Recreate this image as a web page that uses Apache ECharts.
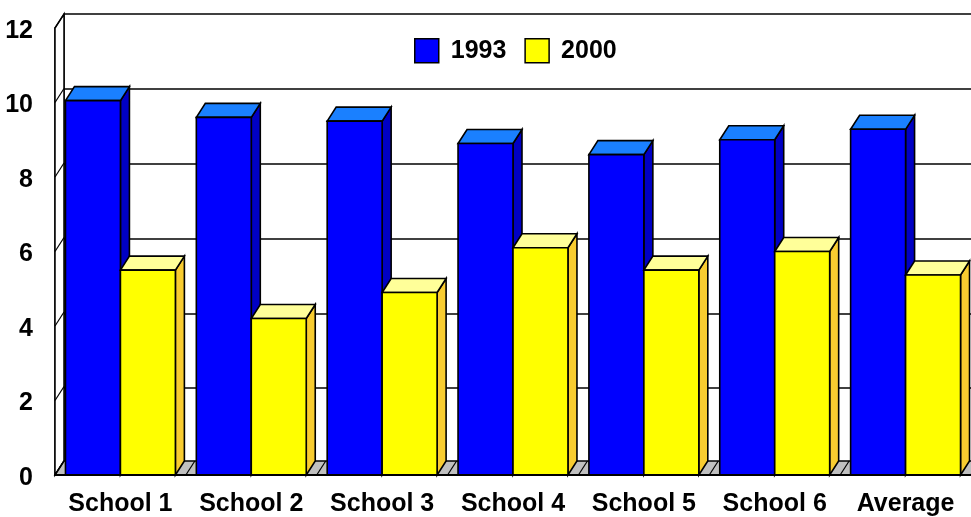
<!DOCTYPE html>
<html>
<head>
<meta charset="utf-8">
<script src="https://cdn.jsdelivr.net/npm/echarts@6/dist/echarts.min.js"></script>
<style>
  html, body { margin: 0; padding: 0; background: #fff; }
  #chart { width: 971px; height: 517px; }
</style>
</head>
<body>
<div id="chart"></div>
<script>
// Scores per school, 1993 vs 2000
const categories = ['School 1', 'School 2', 'School 3', 'School 4', 'School 5', 'School 6', 'Average'];
const scores1993 = [10.05, 9.6, 9.5, 8.9, 8.6, 9.0, 9.28];
const scores2000 = [5.5, 4.2, 4.9, 6.1, 5.5, 6.0, 5.37];
const yTicks = [0, 2, 4, 6, 8, 10, 12];

// Oblique depth of the 3D box (px)
const DX = 9, DY = 14;
const BAR_RATIO = 0.42;
const FONT = '"Liberation Sans", Arial, Helvetica, sans-serif';

const faces = {
  '1993': { front: '#0000ff', top: '#1a80ff', side: '#0000c4' },
  '2000': { front: '#ffff00', top: '#ffff99', side: '#f8cc30' }
};
const EDGE = { stroke: '#000', lineWidth: 1.6 };

// One 3D column: side face, top face, front face
function columnRenderer(slot, c) {
  return function (params, api) {
    const cat = api.value(0);
    const top = api.coord([cat, api.value(1)]);
    const base = api.coord([cat, 0]);
    const band = api.size([1, 0])[0];
    const w = band * BAR_RATIO;
    const x0 = top[0] - w + slot * w;
    const x1 = x0 + w;
    const yT = top[1], yB = base[1];
    return {
      type: 'group',
      children: [
        { type: 'polygon', shape: { points: [[x1, yT], [x1 + DX, yT - DY], [x1 + DX, yB - DY], [x1, yB]] },
          style: Object.assign({ fill: c.side }, EDGE) },
        { type: 'polygon', shape: { points: [[x0, yT], [x1, yT], [x1 + DX, yT - DY], [x0 + DX, yT - DY]] },
          style: Object.assign({ fill: c.top }, EDGE) },
        { type: 'rect', shape: { x: x0, y: yT, width: w, height: yB - yT },
          style: Object.assign({ fill: c.front }, EDGE) }
      ]
    };
  };
}

// Left wall and floor of the box
function frameRenderer(params, api) {
  const cs = params.coordSys;
  const xL = cs.x, xR = cs.x + cs.width, yTop = cs.y, yB = cs.y + cs.height;
  const band = api.size([1, 0])[0];
  const children = [];
  children.push({ type: 'polygon',
    shape: { points: [[xL, yTop], [xL + DX, yTop - DY], [xL + DX, yB - DY], [xL, yB]] },
    style: { fill: '#fff', stroke: '#000', lineWidth: 1.5 } });
  yTicks.forEach(function (t) {
    const y = api.coord([0, t])[1];
    children.push({ type: 'line', shape: { x1: xL, y1: y, x2: xL + DX, y2: y - DY },
      style: { stroke: '#000', lineWidth: 1.2 } });
  });
  children.push({ type: 'polygon',
    shape: { points: [[xL, yB], [xR, yB], [xR + DX, yB - DY], [xL + DX, yB - DY]] },
    style: { fill: '#c0c0c0', stroke: '#000', lineWidth: 1.5 } });
  for (let k = 0; k <= categories.length; k++) {
    const x = xL + k * band;
    children.push({ type: 'line', shape: { x1: x, y1: yB, x2: x + DX, y2: yB - DY },
      style: { stroke: '#000', lineWidth: 1.2 } });
  }
  return { type: 'group', children: children };
}

const chart = echarts.init(document.getElementById('chart'), null, { renderer: 'canvas' });

chart.setOption({
  animation: false,
  backgroundColor: '#fff',
  legend: {
    data: ['1993', '2000'],
    left: 414,
    top: 38,
    padding: 0,
    icon: 'rect',
    itemWidth: 24,
    itemHeight: 24,
    itemGap: 18,
    itemStyle: { borderColor: '#000', borderWidth: 1.5 },
    textStyle: { color: '#000', fontFamily: FONT, fontWeight: 'bold', fontSize: 25, padding: [2, 0, 0, 7] }
  },
  grid: [
    // front plane
    { left: 55, top: 28, width: 919, height: 449 },
    // back wall
    { left: 55 + DX, top: 28 - DY, width: 919, height: 449 }
  ],
  xAxis: [
    {
      type: 'category', gridIndex: 0, data: categories, z: 5,
      axisLine: { show: true, lineStyle: { color: '#000', width: 2 } },
      axisTick: { show: false },
      axisLabel: { interval: 0, margin: 17, color: '#000', fontFamily: FONT, fontWeight: 'bold', fontSize: 25 },
      splitLine: { show: false }
    },
    { type: 'category', gridIndex: 1, data: categories, show: false }
  ],
  yAxis: [
    {
      type: 'value', gridIndex: 0, min: 0, max: 12, interval: 2,
      axisLine: { show: true, lineStyle: { color: '#000', width: 1.5 } },
      axisTick: { show: false },
      axisLabel: {
        margin: 22, color: '#000', fontFamily: FONT, fontWeight: 'bold', fontSize: 25,
        formatter: '{v|{value}}',
        rich: { v: { color: '#000', fontFamily: FONT, fontWeight: 'bold', fontSize: 25, lineHeight: 31, verticalAlign: 'bottom' } }
      },
      splitLine: { show: false }
    },
    {
      type: 'value', gridIndex: 1, min: 0, max: 12, interval: 2,
      axisLine: { show: true, lineStyle: { color: '#000', width: 1.5 } },
      axisTick: { show: false },
      axisLabel: { show: false },
      splitLine: { show: true, lineStyle: { color: '#000', width: 1.5 } }
    }
  ],
  series: [
    {
      name: 'frame', type: 'custom', xAxisIndex: 0, yAxisIndex: 0, z: 1,
      data: [[0, 0]], renderItem: frameRenderer, silent: true
    },
    {
      name: '1993', type: 'custom', xAxisIndex: 0, yAxisIndex: 0, z: 2,
      itemStyle: { color: faces['1993'].front },
      data: scores1993.map(function (v, i) { return [i, v]; }),
      renderItem: columnRenderer(0, faces['1993'])
    },
    {
      name: '2000', type: 'custom', xAxisIndex: 0, yAxisIndex: 0, z: 2,
      itemStyle: { color: faces['2000'].front },
      data: scores2000.map(function (v, i) { return [i, v]; }),
      renderItem: columnRenderer(1, faces['2000'])
    }
  ]
});
</script>
</body>
</html>
